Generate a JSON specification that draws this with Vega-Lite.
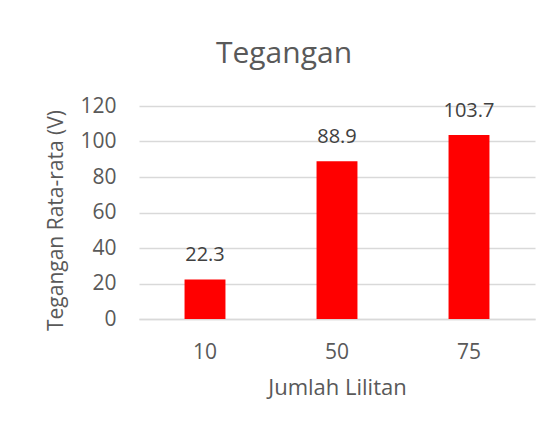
{
  "$schema": "https://vega.github.io/schema/vega-lite/v6.json",
  "width": 396,
  "height": 213,
  "autosize": "none",
  "padding": {"left": 139, "top": 106, "right": 23, "bottom": 116},
  "background": "white",
  "title": {"text": "Tegangan", "fontSize": 30, "font": "Open Sans", "fontWeight": "normal", "color": "#595959", "anchor": "middle", "dx": -53, "offset": 26},
  "data": {"values": [
    {"lilitan": "10", "tegangan": 22.3},
    {"lilitan": "50", "tegangan": 88.9},
    {"lilitan": "75", "tegangan": 103.7}
  ]},
  "encoding": {
    "x": {"field": "lilitan", "type": "nominal", "sort": null,
      "scale": {"paddingInner": 0.69, "paddingOuter": 0.345},
      "axis": {"title": "Jumlah Lilitan", "labelAngle": 0, "ticks": false, "domain": true, "domainColor": "#d9d9d9", "domainWidth": 1.5, "labelPadding": 22, "titlePadding": 15, "titleFontSize": 22}},
    "y": {"field": "tegangan", "type": "quantitative",
      "scale": {"domain": [0, 120]},
      "axis": {"title": "Tegangan Rata-rata (V)", "values": [0, 20, 40, 60, 80, 100, 120], "ticks": false, "domain": false, "gridColor": "#d9d9d9", "gridWidth": 1.5, "labelPadding": 23, "titlePadding": 13, "titleFontSize": 21, "titleY": 114}}
  },
  "layer": [
    {"mark": {"type": "bar", "color": "#ff0000"}},
    {"mark": {"type": "text", "baseline": "alphabetic", "dy": -18, "fontSize": 20, "font": "Open Sans", "color": "#404040"},
     "encoding": {"text": {"field": "tegangan", "type": "quantitative", "format": ".1f"}}}
  ],
  "config": {
    "view": {"stroke": null},
    "axis": {"labelFont": "Open Sans", "labelFontSize": 21, "labelColor": "#595959", "titleFont": "Open Sans", "titleFontWeight": "normal", "titleColor": "#595959"}
  }
}
